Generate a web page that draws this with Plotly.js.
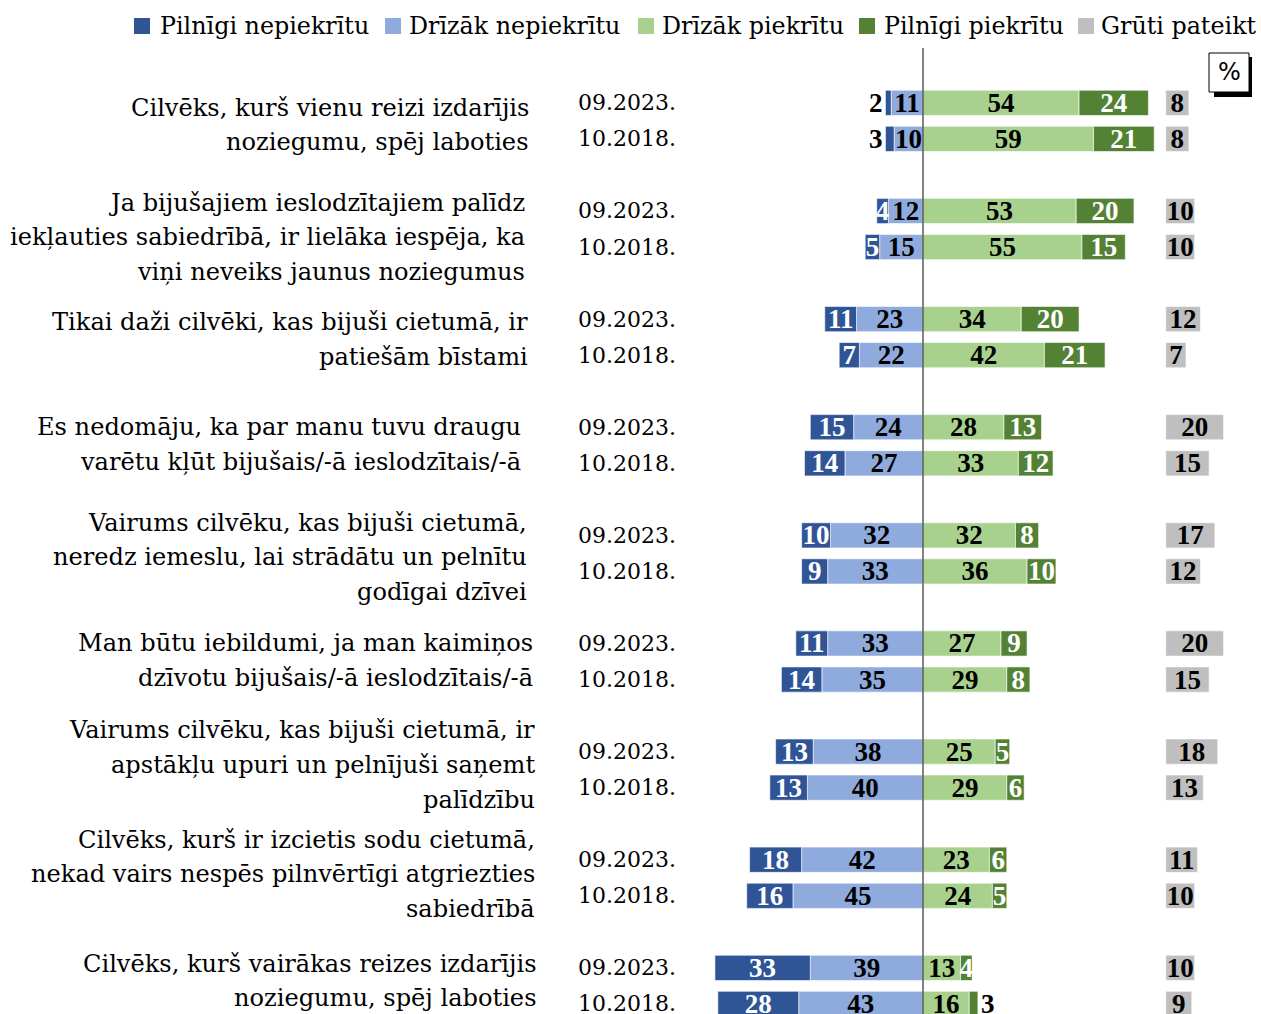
<!DOCTYPE html>
<html>
<head>
<meta charset="utf-8">
<script src="https://cdn.plot.ly/plotly-3.0.1.min.js"></script>
<style>
  html, body { margin: 0; padding: 0; background: #fff; }
  #chart { width: 1261px; height: 1014px; }
</style>
</head>
<body>
<div id="chart"></div>
<script>
// ---------- DATA ----------
const statements = [
  "Cilvēks, kurš vienu reizi izdarījis<br>noziegumu, spēj laboties",
  "Ja bijušajiem ieslodzītajiem palīdz<br>iekļauties sabiedrībā, ir lielāka iespēja, ka<br>viņi neveiks jaunus noziegumus",
  "Tikai daži cilvēki, kas bijuši cietumā, ir<br>patiešām bīstami",
  "Es nedomāju, ka par manu tuvu draugu<br>varētu kļūt bijušais/-ā ieslodzītais/-ā",
  "Vairums cilvēku, kas bijuši cietumā,<br>neredz iemeslu, lai strādātu un pelnītu<br>godīgai dzīvei",
  "Man būtu iebildumi, ja man kaimiņos<br>dzīvotu bijušais/-ā ieslodzītais/-ā",
  "Vairums cilvēku, kas bijuši cietumā, ir<br>apstākļu upuri un pelnījuši saņemt<br>palīdzību",
  "Cilvēks, kurš ir izcietis sodu cietumā,<br>nekad vairs nespēs pilnvērtīgi atgriezties<br>sabiedrībā",
  "Cilvēks, kurš vairākas reizes izdarījis<br>noziegumu, spēj laboties"
];
const periods = ["09.2023.", "10.2018."];

const seriesNames = ["Pilnīgi nepiekrītu", "Drīzāk nepiekrītu", "Drīzāk piekrītu", "Pilnīgi piekrītu", "Grūti pateikt"];

// rows: for each statement -> [09.2023., 10.2018.]
const pilnigiNepiekritu = [2, 3, 4, 5, 11, 7, 15, 14, 10, 9, 11, 14, 13, 13, 18, 16, 33, 28];
const drizakNepiekritu  = [11, 10, 12, 15, 23, 22, 24, 27, 32, 33, 33, 35, 38, 40, 42, 45, 39, 43];
const drizakPiekritu    = [54, 59, 53, 55, 34, 42, 28, 33, 32, 36, 27, 29, 25, 29, 23, 24, 13, 16];
const pilnigiPiekritu   = [24, 21, 20, 15, 20, 21, 13, 12, 8, 10, 9, 8, 5, 6, 6, 5, 4, 3];
const gruti             = [8, 8, 10, 10, 12, 7, 20, 15, 17, 12, 20, 15, 18, 13, 11, 10, 10, 9];

// ---------- LAYOUT HELPERS ----------
const W = 1261, H = 1014;
const FONT = "DejaVu Serif, Liberation Serif, serif";
const NUMFONT = "Liberation Serif, DejaVu Serif, serif";
const colors = ["#2F5597", "#8FAADC", "#A9D18E", "#548235", "#BFBFBF"];
const plotTop = 56, plotBottom = 1014;
const px2x = p => p / W;
const py2y = p => (plotBottom - p) / (plotBottom - plotTop);
const centerPx = 923, pxPerUnit = 2.89;
const xRange = [(0 - centerPx) / pxPerUnit, (W - centerPx) / pxPerUnit];
const greyBase = 84;

// y positions: each statement occupies 3 slots (two rows + gap)
const yPos = [];
statements.forEach((s, g) => periods.forEach((p, r) => yPos.push(g * 3 + r)));

const barWidth = 0.7;
const labelFont = {family: NUMFONT, size: 27, weight: 700};

function barTrace(name, vals, sign, color, txtColor, positions) {
  return {
    type: 'bar', orientation: 'h', name: name,
    y: yPos, x: vals.map(v => sign * v),
    text: vals.map(String), texttemplate: '%{text}',
    textposition: positions || 'inside', textangle: 0,
    insidetextanchor: 'middle', constraintext: 'none',
    textfont: Object.assign({}, labelFont, {color: txtColor}),
    insidetextfont: Object.assign({}, labelFont, {color: txtColor}),
    outsidetextfont: Object.assign({}, labelFont, {color: '#000'}),
    marker: {color: color, line: {color: 'rgba(255,255,255,0.6)', width: 1}},
    width: barWidth, cliponaxis: false, showlegend: false,
    hoverinfo: 'skip'
  };
}

const pnPos = pilnigiNepiekritu.map(v => (v <= 3 ? 'outside' : 'inside'));
const ppPos = pilnigiPiekritu.map(v => (v <= 3 ? 'outside' : 'inside'));

const traces = [
  barTrace(seriesNames[1], drizakNepiekritu, -1, colors[1], '#000'),
  barTrace(seriesNames[0], pilnigiNepiekritu, -1, colors[0], '#fff', pnPos),
  barTrace(seriesNames[2], drizakPiekritu, 1, colors[2], '#000'),
  barTrace(seriesNames[3], pilnigiPiekritu, 1, colors[3], '#fff', ppPos),
  {
    type: 'bar', orientation: 'h', name: seriesNames[4],
    y: yPos, x: gruti, base: greyBase, xaxis: 'x2',
    text: gruti.map(String), texttemplate: '%{text}', textposition: 'inside', textangle: 0,
    insidetextanchor: 'middle', constraintext: 'none',
    textfont: Object.assign({}, labelFont, {color: '#000'}),
    marker: {color: colors[4], line: {color: 'rgba(255,255,255,0.6)', width: 1}},
    width: barWidth, cliponaxis: false, showlegend: false, hoverinfo: 'skip'
  }
];

const annotations = [];
const shapes = [];

// statement labels, one annotation per line
const labelRight = [531, 527, 530, 523, 529, 535, 537, 537, 539];
const labelCenterPx = [125, 237, 339.5, 444.5, 557, 660.5, 765, 874, 981];
const linePitch = 34.5;
statements.forEach((s, g) => {
  const lines = s.split('<br>');
  lines.forEach((ln, k) => {
    const cy = labelCenterPx[g] + (k - (lines.length - 1) / 2) * linePitch;
    annotations.push({
      xref: 'paper', yref: 'paper', x: px2x(labelRight[g]), y: py2y(cy),
      xanchor: 'right', yanchor: 'middle', align: 'right',
      text: ln, showarrow: false,
      font: {family: FONT, size: 24.1, color: '#000'}
    });
  });
  periods.forEach((p, r) => {
    annotations.push({
      xref: 'paper', yref: 'y', x: px2x(576), y: g * 3 + r,
      xanchor: 'left', yanchor: 'middle',
      text: p, showarrow: false,
      font: {family: FONT, size: 22, color: '#000'}
    });
  });
});

// legend (top)
const legSquareX = [134, 385, 638, 859, 1078];
const legTextX = [158, 407, 660, 882, 1099];
const legCy = 26, legSq = 16;
seriesNames.forEach((n, i) => {
  shapes.push({type: 'rect', xref: 'paper', yref: 'paper',
    x0: px2x(legSquareX[i]), x1: px2x(legSquareX[i] + legSq),
    y0: py2y(legCy + legSq / 2), y1: py2y(legCy - legSq / 2),
    fillcolor: colors[i], line: {width: 0}});
  annotations.push({xref: 'paper', yref: 'paper', x: px2x(legTextX[i]), y: py2y(legCy),
    xanchor: 'left', yanchor: 'middle', text: n, showarrow: false,
    font: {family: FONT, size: 23.8, color: '#000'}});
});

// "%" box
annotations.push({
  xref: 'paper', yref: 'paper', x: px2x(1229), y: py2y(72),
  xanchor: 'center', yanchor: 'middle', text: '%', showarrow: false,
  font: {family: 'DejaVu Sans, sans-serif', size: 24, color: '#000'}
});

shapes.push(
  {type: 'line', xref: 'x', yref: 'paper', x0: 0, x1: 0, y0: py2y(1014), y1: py2y(48),
   line: {color: '#404040', width: 1.3}},
  {type: 'rect', xref: 'paper', yref: 'paper', x0: px2x(1214), x1: px2x(1252), y0: py2y(97), y1: py2y(57),
   fillcolor: '#000', line: {width: 0}},
  {type: 'rect', xref: 'paper', yref: 'paper', x0: px2x(1209), x1: px2x(1249), y0: py2y(92), y1: py2y(53),
   fillcolor: '#fff', line: {color: '#000', width: 1}}
);

const layout = {
  width: W, height: H,
  margin: {l: 0, r: 0, t: plotTop, b: H - plotBottom, pad: 0},
  paper_bgcolor: '#fff', plot_bgcolor: 'rgba(0,0,0,0)',
  barmode: 'relative', bargap: 0,
  font: {family: FONT, color: '#000'},
  xaxis: {range: xRange, visible: false, fixedrange: true, zeroline: false, showgrid: false},
  xaxis2: {range: xRange, overlaying: 'x', visible: false, fixedrange: true, zeroline: false, showgrid: false},
  yaxis: {range: [25.28, -1.3], visible: false, fixedrange: true, zeroline: false, showgrid: false},
  showlegend: false,
  annotations: annotations,
  shapes: shapes
};

Plotly.newPlot('chart', traces, layout, {displayModeBar: false, staticPlot: true});
</script>
</body>
</html>
